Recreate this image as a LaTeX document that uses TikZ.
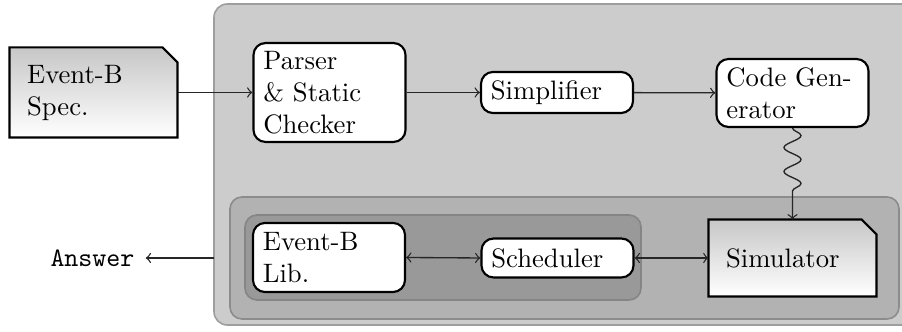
\documentclass[tikz,border=0pt]{standalone}
\usetikzlibrary{calc,decorations.pathmorphing}

\pgfdeclarelayer{back}
\pgfdeclarelayer{mid}
\pgfsetlayers{back,mid,main}

\tikzset{
  proc/.style={draw=black, thick, fill=white, rounded corners=4.5pt,
    minimum width=57pt, text width=49.6pt, inner xsep=3.7pt, inner ysep=2pt,
    align=left},
  docnode/.style={minimum width=62.6pt, text width=49.8pt, inner xsep=6.4pt,
    inner ysep=2pt, align=left},
  docshape/.style={draw=black, thick, top color=black!22, bottom color=white},
  zoneA/.style={fill=black!20, draw=black!38, line width=0.6pt, rounded corners=5pt},
  zoneB/.style={fill=black!30, draw=black!45, line width=0.6pt, rounded corners=4.5pt},
  zoneC/.style={fill=black!40, draw=black!48, line width=0.6pt, rounded corners=4.5pt},
  conn/.style={draw=black!85, line width=0.5pt, >=to},
  wavy/.style={conn, decorate, decoration={snake, amplitude=3.2pt,
    segment length=9pt, post length=10pt}}
}

\begin{document}
\begin{tikzpicture}[x=0.375pt, y=-0.375pt]
  \useasboundingbox (0,0) rectangle (902,332);

  % nested tool-chain regions
  \begin{pgfonlayer}{back}
    \path[zoneA] (214,4) rectangle (940,325);
    \path[zoneB] (230,197) rectangle (899,319);
    \path[zoneC] (245,215) rectangle (641,300);
  \end{pgfonlayer}

  % input specification and simulator (documents with a cut corner)
  \node[docnode, minimum height=33.4pt] (spec) at (93.5,92.5) {Event-B\\Spec.};
  \node[docnode, minimum height=28.5pt] (sim) at (792.5,258) {Simulator};
  \begin{pgfonlayer}{mid}
    \foreach \d in {spec,sim}{
      \path[docshape] (\d.south west) |- ($(\d.north east)+(-15,0)$)
        -- ($(\d.north east)+(0,15)$) |- cycle;
    }
  \end{pgfonlayer}

  % processing stages
  \node[proc, minimum height=37.1pt] (parser) at (329.5,92.5) {Parser\\\& Static\\Checker};
  \node[proc, minimum height=15.4pt] (simp) at (557,92.5) {Simplifier};
  \node[proc, minimum height=25.5pt] (codegen) at (792.5,93) {Code Gen-\\erator};
  \node[proc, minimum height=25.9pt] (lib) at (329,257.5) {Event-B\\Lib.};
  \node[proc, minimum height=14.6pt] (sched) at (557.5,258) {Scheduler};

  % output
  \node[inner sep=4pt, font=\ttfamily] (answer) at (92.5,258) {Answer};
  \coordinate (exit) at (214,258);

  % connectors
  \draw[conn, ->] (spec) -- (parser);
  \draw[conn, ->] (parser) -- (simp);
  \draw[conn, ->] (simp) -- (codegen);
  \draw[wavy, ->] (codegen.south) -- (sim.north);
  \draw[conn, <->] (lib.east) -- (sched.west);
  \draw[conn, <->] (sched.east) -- (sim.west |- sched.east);
  \draw[conn, ->] (exit) -- (answer);
\end{tikzpicture}
\end{document}
